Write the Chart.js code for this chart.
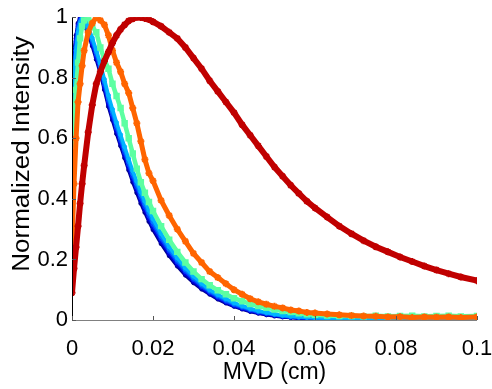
<!DOCTYPE html>
<html>
<head>
<meta charset="utf-8">
<script src="https://cdn.jsdelivr.net/npm/chart.js@4/dist/chart.umd.min.js"></script>
<style>
  html, body { margin: 0; padding: 0; background: #fff; }
  #wrap { width: 492px; height: 389px; }
</style>
</head>
<body>
<div id="wrap"><canvas id="myChart" width="492" height="389"></canvas></div>
<script>
// MVD sample positions (cm)
const mvd = [0, 0.0005, 0.001, 0.0015, 0.002, 0.0025, 0.003,
  0.004, 0.005, 0.006, 0.007, 0.008, 0.009, 0.010, 0.011, 0.012, 0.013, 0.014, 0.015, 0.016, 0.017, 0.018, 0.019, 0.020,
  0.022, 0.024, 0.026, 0.028, 0.030, 0.032, 0.034, 0.036, 0.038, 0.040, 0.042, 0.044, 0.046, 0.048, 0.050, 0.052, 0.054, 0.056, 0.058, 0.060,
  0.063, 0.066, 0.069, 0.072, 0.075, 0.078, 0.081, 0.084, 0.087, 0.090, 0.093, 0.096, 0.100];

const blue1 = [0.80,0.88,0.94,0.98,1.0,0.99,0.975,
  0.945,0.905,0.86,0.815,0.76,0.705,0.66,0.615,0.575,0.535,0.495,0.455,0.42,0.385,0.355,0.325,0.298,
  0.252,0.212,0.178,0.148,0.123,0.102,0.085,0.069,0.056,0.045,0.036,0.028,0.022,0.017,0.013,0.01,0.008,0.006,0.005,0.004,
  0.003,0.003,0.002,0.003,0.002,0.003,0.002,0.003,0.002,0.003,0.002,0.003,0.002];
const blue2 = [0.77,0.86,0.93,0.975,0.995,1.0,0.985,
  0.95,0.912,0.868,0.822,0.768,0.714,0.668,0.624,0.584,0.544,0.504,0.465,0.43,0.395,0.364,0.334,0.306,
  0.26,0.219,0.184,0.154,0.128,0.106,0.088,0.072,0.059,0.047,0.038,0.03,0.024,0.019,0.015,0.011,0.009,0.007,0.006,0.005,
  0.004,0.004,0.003,0.004,0.003,0.004,0.003,0.004,0.003,0.004,0.003,0.004,0.003];
const blue3 = [0.74,0.84,0.92,0.97,0.99,1.0,0.99,
  0.955,0.918,0.876,0.83,0.777,0.723,0.677,0.633,0.593,0.553,0.513,0.474,0.439,0.404,0.373,0.343,0.315,
  0.268,0.227,0.191,0.16,0.134,0.111,0.092,0.076,0.062,0.05,0.041,0.033,0.026,0.021,0.017,0.013,0.01,0.008,0.007,0.006,
  0.005,0.005,0.004,0.005,0.004,0.005,0.004,0.005,0.004,0.005,0.004,0.005,0.004];
const blue4 = [0.72,0.82,0.90,0.96,0.985,1.0,0.995,
  0.96,0.925,0.884,0.838,0.786,0.732,0.686,0.642,0.602,0.562,0.522,0.483,0.448,0.413,0.382,0.352,0.324,
  0.276,0.234,0.198,0.166,0.139,0.116,0.096,0.08,0.066,0.053,0.044,0.035,0.028,0.023,0.018,0.014,0.011,0.009,0.008,0.007,
  0.006,0.006,0.005,0.006,0.005,0.006,0.005,0.006,0.005,0.006,0.005,0.006,0.005];
const blue5 = [0.70,0.80,0.89,0.95,0.98,0.995,1.0,
  0.97,0.932,0.892,0.847,0.795,0.742,0.696,0.652,0.612,0.572,0.532,0.493,0.458,0.423,0.392,0.362,0.334,
  0.285,0.242,0.205,0.172,0.145,0.121,0.1,0.084,0.07,0.057,0.047,0.038,0.031,0.025,0.02,0.016,0.013,0.011,0.009,0.008,
  0.007,0.007,0.006,0.007,0.006,0.007,0.006,0.007,0.006,0.007,0.006,0.007,0.006];
const green = [0.58,0.65,0.76,0.85,0.93,0.97,0.99,
  1.0,0.97,0.95,0.90,0.86,0.83,0.78,0.74,0.70,0.65,0.60,0.55,0.50,0.455,0.42,0.39,0.36,
  0.31,0.265,0.225,0.19,0.16,0.135,0.115,0.098,0.085,0.072,0.062,0.053,0.046,0.04,0.035,0.03,0.026,0.022,0.019,0.017,
  0.015,0.013,0.013,0.012,0.014,0.012,0.013,0.014,0.012,0.013,0.014,0.012,0.013];
const orange = [0.25,0.45,0.60,0.72,0.78,0.84,0.89,
  0.95,0.98,1.0,0.99,0.975,0.94,0.89,0.85,0.82,0.78,0.75,0.70,0.65,0.59,0.53,0.485,0.46,
  0.395,0.345,0.30,0.26,0.22,0.19,0.16,0.14,0.12,0.10,0.085,0.07,0.06,0.052,0.045,0.04,0.033,0.03,0.025,0.023,
  0.02,0.017,0.015,0.013,0.012,0.01,0.011,0.008,0.01,0.009,0.01,0.008,0.01];
const red = [0.09,0.17,0.24,0.31,0.385,0.45,0.51,
  0.62,0.71,0.78,0.82,0.855,0.885,0.915,0.94,0.96,0.975,0.988,0.995,1.0,0.999,0.996,0.992,0.985,
  0.97,0.95,0.93,0.90,0.865,0.83,0.79,0.755,0.72,0.685,0.645,0.61,0.575,0.54,0.505,0.475,0.445,0.418,0.392,0.37,
  0.34,0.31,0.285,0.262,0.242,0.225,0.208,0.193,0.178,0.165,0.153,0.142,0.13];

const xTicks = ['0', '0.02', '0.04', '0.06', '0.08', '0.1'];
const yTicks = ['0', '0.2', '0.4', '0.6', '0.8', '1'];
const yTitle = 'Normalized Intensity';

const FONT = 'Liberation Sans';

function pts(arr) {
  return arr.map((v, i) => ({ x: mvd[i], y: v }));
}

function series(arr, color, opts) {
  return Object.assign({
    data: pts(arr),
    borderColor: color,
    backgroundColor: color,
    pointBorderColor: color,
    pointBackgroundColor: color,
    borderWidth: 3.5,
    pointRadius: 2,
    pointBorderWidth: 1,
    pointStyle: 'circle',
    tension: 0,
    fill: false
  }, opts || {});
}

// inward tick marks, axis lines and the y title like the original figure
const axisTicks = {
  id: 'axisTicks',
  afterDatasetsDraw(chart) {
    const ctx = chart.ctx, a = chart.chartArea;
    const xs = chart.scales.x, ys = chart.scales.y;
    ctx.save();
    ctx.lineWidth = 1;
    ctx.strokeStyle = '#000';
    ctx.beginPath();
    ctx.moveTo(a.left + 0.5, a.top);
    ctx.lineTo(a.left + 0.5, a.bottom);
    ctx.stroke();
    ctx.strokeStyle = '#808080';
    ctx.beginPath();
    ctx.moveTo(a.left, a.bottom + 0.5);
    ctx.lineTo(a.right, a.bottom + 0.5);
    ctx.stroke();
    ctx.strokeStyle = '#555';
    xs.ticks.forEach(t => {
      const px = Math.round(xs.getPixelForValue(t.value)) + 0.5;
      ctx.beginPath();
      ctx.moveTo(px, a.bottom);
      ctx.lineTo(px, a.bottom - 4);
      ctx.stroke();
    });
    ys.ticks.forEach(t => {
      const py = Math.round(ys.getPixelForValue(t.value)) + 0.5;
      ctx.beginPath();
      ctx.moveTo(a.left, py);
      ctx.lineTo(a.left + 4, py);
      ctx.stroke();
    });

    // the source figure is a little stretched vertically, so the rotated title is too
    ctx.translate(29, 154);
    ctx.rotate(-Math.PI / 2);
    ctx.scale(1.13, 1);
    ctx.fillStyle = '#000';
    ctx.font = '23px "' + FONT + '"';
    ctx.textAlign = 'center';
    ctx.textBaseline = 'alphabetic';
    ctx.fillText(yTitle, 0, 0);
    ctx.restore();
  }
};

function drawChart() {
  const ctx = document.getElementById('myChart');
  new Chart(ctx, {
    type: 'line',
    data: {
      datasets: [
        series(red, '#C00000', { borderWidth: 6, pointStyle: 'star', pointRadius: 3.5, pointBorderWidth: 2, order: 1 }),
        series(orange, '#FF6400', { borderWidth: 5, pointStyle: 'star', pointRadius: 3.5, pointBorderWidth: 2, order: 2 }),
        series(green, '#5CFFA2', { borderWidth: 4.5, pointStyle: 'rect', pointRadius: 3.5, pointBorderWidth: 1.5, order: 3 }),
        series(blue5, '#00B4FF', { order: 4 }),
        series(blue4, '#0078FF', { order: 5 }),
        series(blue3, '#0038FF', { order: 6 }),
        series(blue2, '#0000D8', { order: 7 }),
        series(blue1, '#00008F', { order: 8 })
      ]
    },
    options: {
      responsive: false,
      animation: false,
      layout: { padding: { top: 15, right: 0, left: 0, bottom: 0 } },
      plugins: {
        legend: { display: false },
        tooltip: { enabled: false }
      },
      scales: {
        x: {
          type: 'linear',
          min: 0,
          max: 0.1,
          border: { display: false },
          grid: { display: false, drawTicks: false },
          ticks: {
            stepSize: 0.02,
            color: '#000',
            padding: 16,
            maxRotation: 0,
            font: { family: FONT, size: 22 },
            callback: (v) => xTicks[Math.round(v / 0.02)]
          },
          title: {
            display: true,
            text: 'MVD (cm)',
            color: '#000',
            padding: { top: 0, bottom: 3 },
            font: { family: FONT, size: 23 }
          },
          afterFit: (s) => { s.height = 69; s.paddingLeft = 0; s.paddingRight = 15; }
        },
        y: {
          min: 0,
          max: 1,
          border: { display: false },
          grid: { display: false, drawTicks: false },
          ticks: {
            stepSize: 0.2,
            color: '#000',
            padding: 4,
            font: { family: FONT, size: 22 },
            callback: (v) => yTicks[Math.round(v / 0.2)]
          },
          afterFit: (s) => { s.width = 72; }
        }
      }
    },
    plugins: [axisTicks]
  });
}

drawChart();
</script>
</body>
</html>
